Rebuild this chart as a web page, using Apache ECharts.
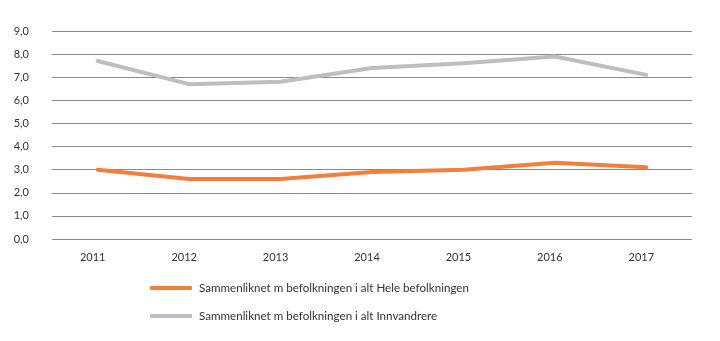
<!DOCTYPE html>
<html><head><meta charset="utf-8">
<script src="https://cdn.jsdelivr.net/npm/echarts@6/dist/echarts.min.js"></script>
<style>html,body{margin:0;padding:0;background:#fff}#c{width:720px;height:341px}</style>
</head><body><div id="c"></div>
<script>
const categories = ['2011','2012','2013','2014','2015','2016','2017'];
const seriesNames = ['Sammenliknet m befolkningen i alt Hele befolkningen','Sammenliknet m befolkningen i alt Innvandrere'];
const hele = [3.0, 2.6, 2.6, 2.9, 3.0, 3.3, 3.1];
const innvandrere = [7.7, 6.7, 6.8, 7.4, 7.6, 7.9, 7.1];
const colors = ['#F47E3A', '#BEBEBE'];
const chart = echarts.init(document.getElementById('c'), null, {renderer:'canvas'});
const font = 'Lato, "Open Sans", sans-serif';
chart.setOption({
  animation:false,
  grid:{left:52, right:28, top:31, bottom:102},
  legend:{
    orient:'vertical', left:145, top:277, itemGap:16,
    itemWidth:42, itemHeight:4, icon:'roundRect',
    textStyle:{fontFamily:font, fontSize:11.6, color:'#333', padding:[0,0,0,2]},
    data:seriesNames
  },
  xAxis:{
    type:'category', data:categories, boundaryGap:true,
    axisLine:{show:false}, axisTick:{show:false},
    axisLabel:{fontFamily:font, fontSize:11, color:'#333', margin:13, padding:[0,10,0,0]}
  },
  yAxis:{
    type:'value', min:0, max:9, interval:1,
    axisLabel:{fontFamily:font, fontSize:11, color:'#333', margin:23,
      formatter:v=>v.toFixed(1).replace('.',',')},
    splitLine:{lineStyle:{color:'#8a8a8a', width:1}},
    axisLine:{show:false}, axisTick:{show:false}
  },
  series:[
    {name:seriesNames[0], type:'line', data:hele, symbol:'none', lineStyle:{width:4, color:colors[0], cap:'round'}, itemStyle:{color:colors[0]}},
    {name:seriesNames[1], type:'line', data:innvandrere, symbol:'none', lineStyle:{width:4, color:colors[1], cap:'round'}, itemStyle:{color:colors[1]}}
  ]
});
</script></body></html>
